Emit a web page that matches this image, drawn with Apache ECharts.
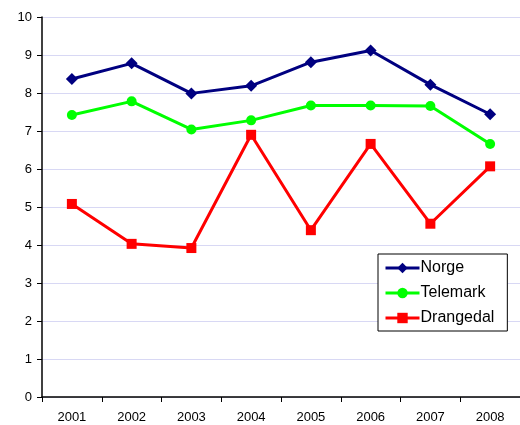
<!DOCTYPE html>
<html>
<head>
<meta charset="utf-8">
<script src="https://cdn.jsdelivr.net/npm/echarts@6/dist/echarts.min.js"></script>
<style>
  html, body { margin: 0; padding: 0; background: #fff; }
  #chart { width: 520px; height: 425px; }
</style>
</head>
<body>
<div id="chart"></div>
<script>
var years = ['2001', '2002', '2003', '2004', '2005', '2006', '2007', '2008']
var norge = [8.37, 8.78, 7.99, 8.19, 8.81, 9.12, 8.22, 7.44]
var telemark = [7.42, 7.78, 7.04, 7.28, 7.67, 7.67, 7.66, 6.66]
var drangedal = [5.08, 4.03, 3.92, 6.9, 4.39, 6.66, 4.56, 6.07]

var chart = echarts.init(document.getElementById('chart'))

function line(name, data, color, symbol, size) {
  return {
    name: name,
    type: 'line',
    data: data,
    symbol: symbol,
    symbolSize: size,
    showAllSymbol: true,
    lineStyle: { color: color, width: 3 },
    itemStyle: { color: color },
    emphasis: { disabled: true }
  }
}

chart.setOption({
  animation: false,
  textStyle: { fontFamily: 'Liberation Sans, Arial, sans-serif' },
  grid: { left: 42, top: 17, width: 485, height: 380 },
  legend: {
    orient: 'vertical',
    left: 378,
    top: 254,
    width: 129,
    padding: [6, 13, 5, 6],
    itemGap: 9,
    itemWidth: 34,
    itemHeight: 13,
    backgroundColor: '#fff',
    borderColor: '#000',
    borderWidth: 1,
    lineStyle: { width: 3 },
    textStyle: { fontSize: 16, color: '#000', padding: [0, 0, 0, -4] },
    data: ['Norge', 'Telemark', 'Drangedal']
  },
  xAxis: {
    type: 'category',
    data: years,
    boundaryGap: true,
    axisLine: { lineStyle: { color: '#000', width: 1.5 } },
    axisTick: { show: true, length: 5, lineStyle: { color: '#000' } },
    axisLabel: { color: '#000', fontSize: 13, margin: 14 },
    splitLine: { show: false }
  },
  yAxis: {
    type: 'value',
    min: 0,
    max: 10,
    interval: 1,
    axisLine: { show: true, lineStyle: { color: '#000', width: 1.5 } },
    axisTick: { show: true, length: 5, lineStyle: { color: '#000' } },
    axisLabel: { color: '#000', fontSize: 13, margin: 10 },
    splitLine: { show: true, lineStyle: { color: '#d8d8f4', width: 1 } }
  },
  series: [
    line('Norge', norge, '#000080', 'diamond', 12),
    line('Telemark', telemark, '#00ff00', 'circle', 10),
    line('Drangedal', drangedal, '#ff0000', 'rect', 10)
  ]
})
</script>
</body>
</html>
